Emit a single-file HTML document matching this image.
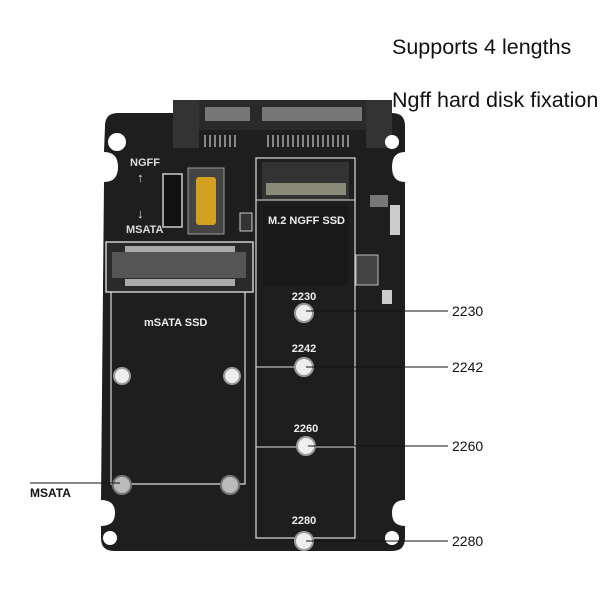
<!DOCTYPE html>
<html><head><style>body{margin:0;background:#fff}svg{display:block}</style></head><body>
<svg width="612" height="612" viewBox="0 0 612 612" xmlns="http://www.w3.org/2000/svg" font-family="Liberation Sans, sans-serif">
<rect width="612" height="612" fill="#fff"/>
<text x="392" y="54" font-size="21.5" fill="#111">Supports 4 lengths</text>
<text x="392" y="107" font-size="21.5" fill="#111">Ngff hard disk fixation</text>
<!-- board -->
<path d="M118,113 L392,113 Q405,113 405,126 L405,152 Q392,152 392,167 Q392,182 405,182 L405,500 Q392,500 392,513 Q392,526 405,526 L405,538 Q405,551 392,551 L114,551 Q101,551 101,538 L101,526 Q115,526 115,513 Q115,500 101,500 L104,182 Q118,182 118,167 Q118,152 104,152 L105,126 Q105,113 118,113 Z" fill="#1e1e1e"/>
<!-- SATA connector -->
<rect x="173" y="100" width="219" height="30" fill="#2a2a2a"/>
<rect x="173" y="100" width="26" height="48" fill="#333"/>
<rect x="366" y="100" width="26" height="48" fill="#333"/>
<rect x="205" y="107" width="45" height="14" fill="#777"/>
<rect x="262" y="107" width="100" height="14" fill="#777"/>
<g stroke="#aaa" stroke-width="1.5">
<path d="M205,135v12M210,135v12M215,135v12M220,135v12M225,135v12M230,135v12M235,135v12M268,135v12M273,135v12M278,135v12M283,135v12M288,135v12M293,135v12M298,135v12M303,135v12M308,135v12M313,135v12M318,135v12M323,135v12M328,135v12M333,135v12M338,135v12M343,135v12M348,135v12"/>
</g>
<!-- holes -->
<circle cx="117" cy="142" r="9" fill="#fff"/>
<circle cx="392" cy="142" r="7" fill="#fff"/>
<circle cx="110" cy="538" r="7" fill="#fff"/>
<circle cx="392" cy="538" r="7" fill="#fff"/>
<!-- switch area -->
<text x="130" y="166" font-size="11" fill="#ddd" font-weight="bold">NGFF</text>
<text x="137" y="182" font-size="13" fill="#ddd">↑</text>
<text x="137" y="218" font-size="13" fill="#ddd">↓</text>
<text x="126" y="233" font-size="11" fill="#ddd" font-weight="bold">MSATA</text>
<rect x="163" y="174" width="19" height="53" fill="#111" stroke="#ccc" stroke-width="1.5"/>
<rect x="188" y="168" width="36" height="66" fill="#444" stroke="#999"/>
<rect x="196" y="177" width="20" height="48" rx="3" fill="#d4a020"/>
<rect x="240" y="213" width="12" height="18" fill="#333" stroke="#ccc"/>
<!-- mSATA connector -->
<rect x="106" y="242" width="147" height="50" fill="#2a2a2a" stroke="#ccc" stroke-width="1.5"/>
<rect x="112" y="252" width="134" height="26" fill="#555"/>
<rect x="125" y="246" width="110" height="6" fill="#aaa"/>
<rect x="125" y="279" width="110" height="7" fill="#aaa"/>
<!-- mSATA outline -->
<path d="M111,292 V484 H245 V292" fill="none" stroke="#ddd" stroke-width="1.2"/>
<text x="144" y="326" font-size="11" fill="#eee" font-weight="bold">mSATA SSD</text>
<!-- NGFF outline -->
<rect x="256" y="158" width="99" height="380" fill="none" stroke="#ddd" stroke-width="1.2"/>
<rect x="262" y="162" width="87" height="38" fill="#333"/>
<rect x="266" y="183" width="80" height="12" fill="#8a8a7a"/>
<line x1="256" y1="200" x2="355" y2="200" stroke="#ddd"/>
<line x1="256" y1="367" x2="355" y2="367" stroke="#ddd"/>
<line x1="256" y1="447" x2="355" y2="447" stroke="#ddd"/>
<rect x="263" y="206" width="85" height="80" fill="#191919"/>
<text x="268" y="224" font-size="11" fill="#eee" font-weight="bold">M.2  NGFF SSD</text>
<!-- right components -->
<rect x="356" y="255" width="22" height="30" fill="#444" stroke="#bbb"/>
<rect x="370" y="195" width="18" height="12" fill="#777"/>
<rect x="390" y="205" width="10" height="30" fill="#ccc"/>
<rect x="382" y="290" width="10" height="14" fill="#ccc"/>
<!-- labels -->
<g font-size="11" fill="#eee" font-weight="bold" text-anchor="middle">
<text x="304" y="300">2230</text><text x="304" y="352">2242</text><text x="306" y="432">2260</text><text x="304" y="524">2280</text>
</g>
<!-- NGFF holes -->
<g fill="#eee" stroke="#999" stroke-width="2">
<circle cx="304" cy="313" r="9"/><circle cx="304" cy="367" r="9"/><circle cx="306" cy="446" r="9"/><circle cx="304" cy="541" r="9"/>
<circle cx="122" cy="376" r="8"/><circle cx="232" cy="376" r="8"/>
</g>
<g fill="#bbb" stroke="#777" stroke-width="2"><circle cx="122" cy="485" r="9"/><circle cx="230" cy="485" r="9"/></g>
<!-- callouts -->
<g stroke="#111" stroke-width="1">
<line x1="306" y1="311" x2="448" y2="311"/><line x1="306" y1="367" x2="448" y2="367"/><line x1="308" y1="446" x2="448" y2="446"/><line x1="306" y1="541" x2="448" y2="541"/><line x1="30" y1="483" x2="120" y2="483"/>
</g>
<g font-size="14" fill="#111">
<text x="452" y="316">2230</text><text x="452" y="372">2242</text><text x="452" y="451">2260</text><text x="452" y="546">2280</text>
</g>
<text x="30" y="497" font-size="12" font-weight="bold" fill="#111">MSATA</text>
</svg>
</body></html>
